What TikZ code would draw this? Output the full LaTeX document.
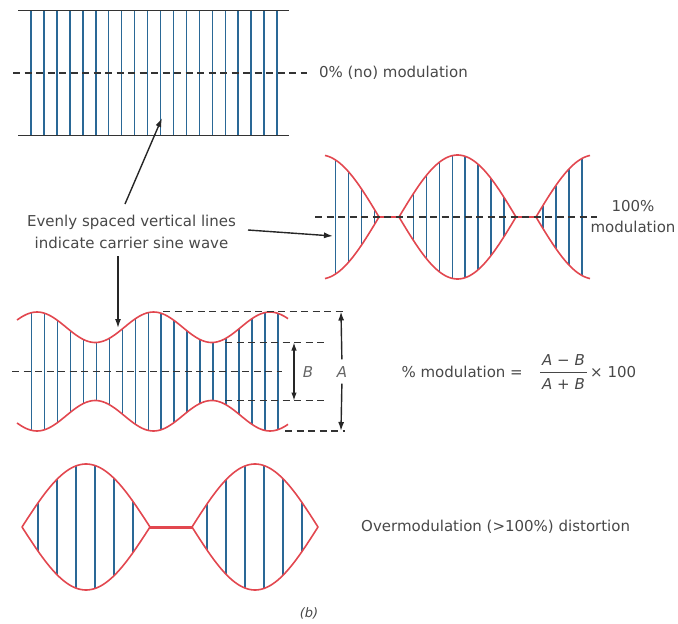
\documentclass[tikz,border=0pt]{standalone}
\usepackage{fontspec}
\setmainfont{DejaVu Sans}
\usetikzlibrary{arrows.meta}
\definecolor{cblue}{HTML}{2A6896}
\definecolor{cred}{HTML}{E2474F}
\definecolor{ctext}{HTML}{484848}
\begin{document}
\begin{tikzpicture}[x=1pt,y=-1pt,
  carrier/.style={cblue,line width=1.5pt},
  envl/.style={cred,line width=1.6pt,line join=round},
  midln/.style={black!80,line width=1.2pt,dash pattern=on 7pt off 4.5pt},
  rail/.style={black!80,line width=1.3pt},
  lbl/.style={text=ctext,font=\fontsize{15}{21.5}\selectfont,inner sep=0pt},
  ptr/.style={black!85,line width=1.4pt,-{Latex[length=9pt,width=6pt]}},
  dimarrow/.style={black!85,line width=1.2pt,{Latex[length=8pt,width=5.5pt]}-{Latex[length=8pt,width=5.5pt]}},
]
\useasboundingbox (0,0) rectangle (678,624);

% ---------- 0% modulation ----------
\foreach \k in {0,...,19}{\draw[carrier] ({31+12.95*\k},10.5) -- ({31+12.95*\k},135.5);}
\draw[rail] (18,10.5) -- (289,10.5);
\draw[rail] (18,135.5) -- (289,135.5);
\draw[midln] (13,73) -- (307,73);
\node[lbl,anchor=west] (t0) at (319,73) {0\% (no) modulation};

% ---------- 100% modulation ----------
\foreach \k in {0,...,19}{
  \pgfmathsetmacro{\xx}{335.7+12.95*\k}
  \pgfmathsetmacro{\hh}{(\xx<379)*62*sin((\xx-262)/117*180) + and(\xx>=399,\xx<516)*62*sin((\xx-399)/117*180) + (\xx>=536)*62*sin((\xx-536)/117*180)}
  \ifdim\hh pt>1pt \draw[carrier] ({\xx},{217-\hh}) -- ({\xx},{217+\hh}); \fi
}
\draw[envl] plot[domain=325:379,samples=30,smooth] (\x,{217-62*sin((\x-262)/117*180)}) -- (399,217)
  -- plot[domain=399:516,samples=50,smooth] (\x,{217-62*sin((\x-399)/117*180)}) -- (536,217)
  -- plot[domain=536:590,samples=30,smooth] (\x,{217-62*sin((\x-536)/117*180)});
\draw[envl] plot[domain=325:379,samples=30,smooth] (\x,{217+62*sin((\x-262)/117*180)}) -- (399,217)
  -- plot[domain=399:516,samples=50,smooth] (\x,{217+62*sin((\x-399)/117*180)}) -- (536,217)
  -- plot[domain=536:590,samples=30,smooth] (\x,{217+62*sin((\x-536)/117*180)});
\draw[midln] (315,217) -- (597,217);
\node[lbl,align=center] (t100) at (633,216.5) {100\%\\modulation};

% ---------- partial modulation ----------
\foreach \k in {0,...,19}{
  \pgfmathsetmacro{\xx}{31.7+12.95*\k}
  \pgfmathsetmacro{\hh}{44.25+15.25*cos((\xx-37)/116.5*360)}
  \draw[carrier] ({\xx},{371.5-\hh}) -- ({\xx},{371.5+\hh});
}
\draw[envl] plot[domain=17:288,samples=120,smooth] (\x,{371.5-44.25-15.25*cos((\x-37)/116.5*360)});
\draw[envl] plot[domain=17:288,samples=120,smooth] (\x,{371.5+44.25+15.25*cos((\x-37)/116.5*360)});
\draw[midln] (12,371.5) -- (282,371.5);
\draw[midln] (163,311.5) -- (345,311.5);
\draw[midln] (225,342.5) -- (325,342.5);
\draw[midln] (225,400.5) -- (325,400.5);
\draw[midln] (285,431) -- (345,431);
\coordinate (Bt) at (294,342.5);
\coordinate (Bb) at (294,400.5);
\draw[dimarrow] (Bt) -- (Bb);
\node[lbl,font=\fontsize{15}{18}\selectfont\itshape,text=black!60] (Blab) at (308,372) {B};
\node[lbl,font=\fontsize{15}{18}\selectfont\itshape,text=black!60] (Alab) at (342,372) {A};
\coordinate (At) at (341,311.5);
\coordinate (Ab) at (341,431);
\draw[ptr,shorten <=7pt] (Alab.north) -- (At);
\draw[ptr,shorten <=6pt] (Alab.south) -- (Ab);

% formula
\node[lbl,anchor=east] (pm) at (523,372) {\% modulation =};
\node[lbl] (num) at (563.5,360) {\textit{A} − \textit{B}};
\node[lbl] (den) at (563.5,384) {\textit{A} + \textit{B}};
\draw[ctext,line width=1pt] (540,372) -- (587,372);
\node[lbl,anchor=west] (tm) at (590,372) {× 100};

% ---------- overmodulation ----------
\foreach \xx in {38,57,76,95,114,133}{
  \pgfmathsetmacro{\hh}{63*sin((\xx-22)/128*180)}
  \draw[carrier] ({\xx},{527-\hh}) -- ({\xx},{527+\hh});
}
\foreach \xx in {207,226,245,264,283,302}{
  \pgfmathsetmacro{\hh}{63*sin((\xx-192)/126*180)}
  \draw[carrier] ({\xx},{527-\hh}) -- ({\xx},{527+\hh});
}
\draw[envl] plot[domain=22:150,samples=60,smooth] (\x,{527-63*sin((\x-22)/128*180)})
  -- plot[domain=150:22,samples=60,smooth] (\x,{527+63*sin((\x-22)/128*180)}) -- cycle;
\draw[envl] plot[domain=192:318,samples=60,smooth] (\x,{527-63*sin((\x-192)/126*180)})
  -- plot[domain=318:192,samples=60,smooth] (\x,{527+63*sin((\x-192)/126*180)}) -- cycle;
\draw[cred,line width=3pt] (150,527) -- (192,527);
\node[lbl,anchor=west] (tov) at (361,527) {Overmodulation (>100\%) distortion};
\node[lbl,font=\fontsize{13}{16}\selectfont\itshape] (cap) at (309,613) {(b)};

% ---------- pointer label ----------
\node[lbl,align=center] (ev) at (131.5,232) {Evenly spaced vertical lines\\indicate carrier sine wave};
\coordinate (p1s) at (125,204);
\coordinate (p1e) at (162,118);
\coordinate (p2s) at (248,230);
\coordinate (p2e) at (333,236);
\coordinate (p3s) at (118,256);
\coordinate (p3e) at (118,328);
\draw[ptr] (p1s) -- (p1e);
\draw[ptr] (p2s) -- (p2e);
\draw[ptr] (p3s) -- (p3e);
\end{tikzpicture}
\end{document}
